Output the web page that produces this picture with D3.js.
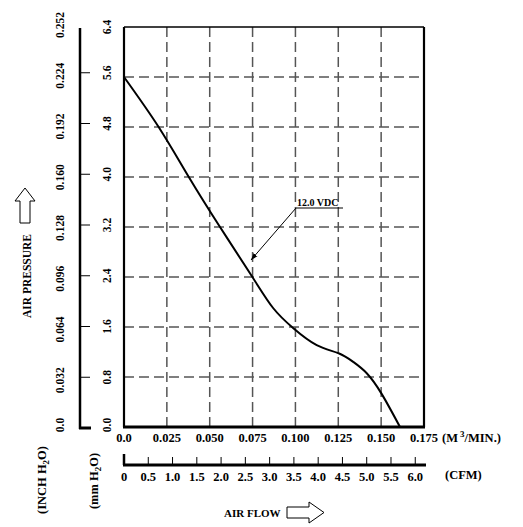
<!DOCTYPE html>
<html>
<head>
<meta charset="utf-8">
<script src="https://cdn.jsdelivr.net/npm/d3@7"></script>
<style>
  body { margin: 0; background: #fff; }
  text { font-family: "Liberation Serif", "DejaVu Serif", serif; font-weight: bold; fill: #000; }
</style>
</head>
<body>
<div id="chart"></div>
<script>
// data (flow in m3/min, pressure in mm H2O)
const flow = [0, 0.0202, 0.0378, 0.056, 0.0749, 0.0871, 0.0988, 0.1124, 0.1252, 0.1338, 0.1416, 0.1503, 0.161];
const pressure = [5.6, 4.8, 4.0, 3.2, 2.4, 1.9, 1.58, 1.31, 1.18, 1.04, 0.86, 0.53, 0];
const flowTicks = [0, 0.025, 0.05, 0.075, 0.1, 0.125, 0.15, 0.175];
const mmTicks = [0, 0.8, 1.6, 2.4, 3.2, 4.0, 4.8, 5.6, 6.4];
const inchLabels = ["0.0", "0.032", "0.064", "0.096", "0.128", "0.160", "0.192", "0.224", "0.252"];
const cfmTicks = [0, 0.5, 1, 1.5, 2, 2.5, 3, 3.5, 4, 4.5, 5, 5.5, 6];
const cfmLabels = ["0", "0.5", "1.0", "1.5", "2.0", "2.5", "3.0", "3.5", "4.0", "4.5", "5.0", "5.5", "6.0"];
const curveLabel = "12.0 VDC";

const width = 523, height = 527;
const svg = d3.select("#chart").append("svg")
  .attr("width", width).attr("height", height);

const x = d3.scaleLinear().domain([0, 0.175]).range([124, 424]);
const y = d3.scaleLinear().domain([0, 6.4]).range([427, 27]);
const yLeft = d3.scaleLinear().domain([0, 6.4]).range([428, 22]);
const cfm = d3.scaleLinear().domain([0, 0.175 * 35.3147]).range([124, 424]);

// grid
const grid = svg.append("g")
  .attr("stroke", "#555").attr("stroke-width", 1.5).attr("stroke-dasharray", "10,5");
grid.selectAll(".vg").data(flowTicks.slice(1, -1)).join("line")
  .attr("x1", d => x(d)).attr("x2", d => x(d)).attr("y1", y(6.4)).attr("y2", y(0));
grid.selectAll(".hg").data(mmTicks.slice(1, -1)).join("line")
  .attr("y1", d => y(d)).attr("y2", d => y(d)).attr("x1", x(0)).attr("x2", x(0.175));

// frame
svg.append("line").attr("x1", x(0)).attr("x2", x(0.175)).attr("y1", y(6.4)).attr("y2", y(6.4))
  .attr("stroke", "#000").attr("stroke-width", 1.5);
svg.append("line").attr("x1", x(0) - 1).attr("x2", x(0.175) + 1).attr("y1", y(0)).attr("y2", y(0))
  .attr("stroke", "#000").attr("stroke-width", 3);
[0, 0.175].forEach(v => {
  svg.append("line").attr("x1", x(v)).attr("x2", x(v)).attr("y1", y(6.4)).attr("y2", y(0))
    .attr("stroke", "#000").attr("stroke-width", 2.2);
});

// curve
const pts = flow.map((f, i) => [f, pressure[i]]);
const line = d3.line().x(d => x(d[0])).y(d => y(d[1])).curve(d3.curveNatural);
svg.append("path").attr("d", line(pts))
  .attr("fill", "none").attr("stroke", "#000").attr("stroke-width", 2);

// annotation
svg.append("defs").append("marker")
  .attr("id", "ah").attr("viewBox", "0 0 10 10").attr("refX", 10).attr("refY", 5)
  .attr("markerWidth", 7).attr("markerHeight", 7).attr("orient", "auto")
  .append("path").attr("d", "M0,1.5L10,5L0,8.5z").attr("fill", "#000");
svg.append("line").attr("x1", 296).attr("x2", 343).attr("y1", 208).attr("y2", 208)
  .attr("stroke", "#000").attr("stroke-width", 1);
svg.append("line").attr("x1", 296).attr("y1", 208).attr("x2", 251).attr("y2", 260)
  .attr("stroke", "#000").attr("stroke-width", 1).attr("marker-end", "url(#ah)");
svg.append("text").attr("x", 297).attr("y", 206).attr("font-size", 10).text(curveLabel);

// bottom axis (m3/min)
svg.selectAll(".xl").data(flowTicks).join("text")
  .attr("x", d => x(d)).attr("y", 442).attr("text-anchor", "middle").attr("font-size", 12.5)
  .text(d => d === 0 ? "0.0" : d3.format(".3f")(d));
const unit = svg.append("text").attr("x", 442).attr("y", 442).attr("font-size", 12.5);
unit.append("tspan").text("(M");
unit.append("tspan").attr("dy", -5).attr("dx", 2).attr("font-size", 9).text("3");
unit.append("tspan").attr("dy", 5).text("/MIN.)");

// CFM axis
svg.append("line").attr("x1", cfm(0) - 1).attr("x2", 426).attr("y1", 465).attr("y2", 465)
  .attr("stroke", "#000").attr("stroke-width", 3);
svg.selectAll(".ct").data(cfmTicks).join("line")
  .attr("x1", d => cfm(d)).attr("x2", d => cfm(d))
  .attr("y1", d => d === 0 ? 454 : 457).attr("y2", 465)
  .attr("stroke", "#000").attr("stroke-width", d => d === 0 ? 2.5 : 1);
svg.selectAll(".cl").data(cfmTicks).join("text")
  .attr("x", d => cfm(d)).attr("y", 481).attr("text-anchor", "middle").attr("font-size", 12.5)
  .text((d, i) => cfmLabels[i]);
svg.append("text").attr("x", 445).attr("y", 479).attr("font-size", 12.5).text("(CFM)");

// left axis (mm H2O / inch H2O)
svg.append("line").attr("x1", 80).attr("x2", 80).attr("y1", 28).attr("y2", 429)
  .attr("stroke", "#000").attr("stroke-width", 2.5);
svg.append("line").attr("x1", 79).attr("x2", 91).attr("y1", 428).attr("y2", 428)
  .attr("stroke", "#000").attr("stroke-width", 3);
svg.selectAll(".lt").data(mmTicks.slice(1, -1)).join("line")
  .attr("x1", 80).attr("x2", 90).attr("y1", d => yLeft(d)).attr("y2", d => yLeft(d))
  .attr("stroke", "#000").attr("stroke-width", 1);
svg.selectAll(".ml").data(mmTicks).join("text")
  .attr("transform", d => `translate(111,${yLeft(d) + (d === 0 ? -3 : d === 6.4 ? 5 : 0)}) rotate(-90)`)
  .attr("text-anchor", "middle").attr("font-size", 11.5)
  .text(d => d.toFixed(1));
svg.selectAll(".il").data(mmTicks).join("text")
  .attr("transform", (d, i) => `translate(64,${yLeft(d) + (d === 0 ? -3 : 3)}) rotate(-90)`)
  .attr("text-anchor", "middle").attr("font-size", 11.5)
  .text((d, i) => inchLabels[i]);

function rotLabel(cx, cy, parts) {
  const t = svg.append("text").attr("transform", `translate(${cx},${cy}) rotate(-90)`)
    .attr("text-anchor", "middle").attr("font-size", 12.5);
  parts.forEach(p => {
    const s = t.append("tspan").text(p.t);
    if (p.sub) s.attr("font-size", 9).attr("dy", 3);
    if (p.back) s.attr("dy", -3);
  });
}
rotLabel(46, 480, [{ t: "(INCH  H" }, { t: "2", sub: true }, { t: "O)", back: true }]);
rotLabel(98, 481, [{ t: "(mm  H" }, { t: "2", sub: true }, { t: "O)", back: true }]);
svg.append("text").attr("transform", "translate(31,276) rotate(-90)")
  .attr("text-anchor", "middle").attr("font-size", 11.5).text("AIR  PRESSURE");

// outline arrows
svg.append("path")
  .attr("d", "M20,223 L30,223 L30,201 L35,201 L25,188 L15,201 L20,201 Z")
  .attr("fill", "#fff").attr("stroke", "#000").attr("stroke-width", 1);
svg.append("text").attr("x", 224).attr("y", 517).attr("font-size", 11).text("AIR FLOW");
svg.append("path")
  .attr("d", "M287,507 L309,507 L309,502 L324,512.5 L309,523 L309,518 L287,518 Z")
  .attr("fill", "#fff").attr("stroke", "#000").attr("stroke-width", 1);
</script>
</body>
</html>
